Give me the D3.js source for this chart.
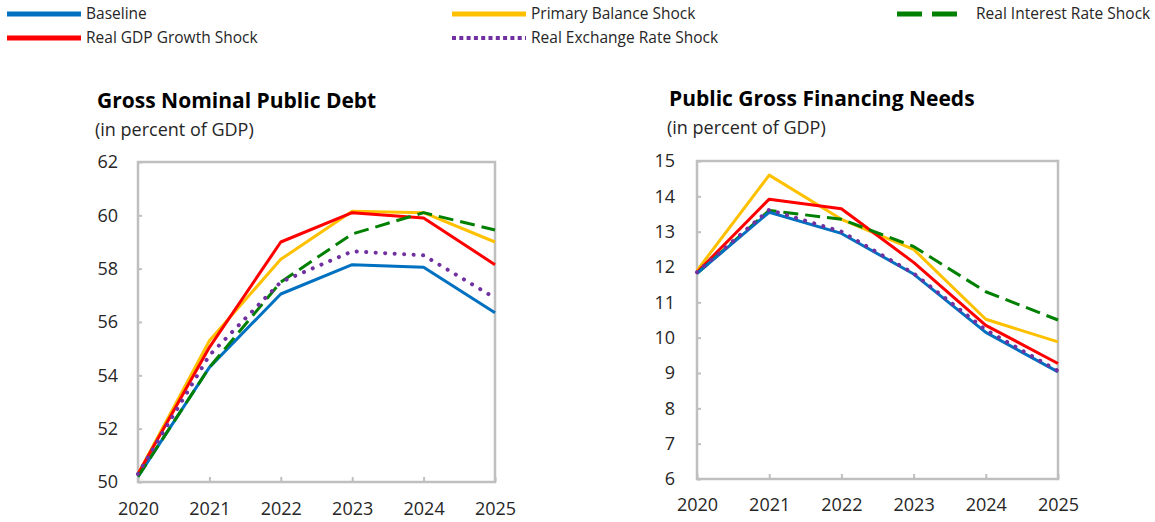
<!DOCTYPE html>
<html>
<head>
<meta charset="utf-8">
<script src="https://cdn.jsdelivr.net/npm/d3@7/dist/d3.min.js"></script>
<style>
  body { margin: 0; background: #fff; }
  svg { font-family: "Open Sans", "Noto Sans", sans-serif; }
</style>
</head>
<body>
<div id="chart"></div>
<script>
// years on the x axis
var years = [2020, 2021, 2022, 2023, 2024, 2025];

// Gross nominal public debt (% of GDP)
var debtBaseline = [50.2, 54.3, 57.05, 58.15, 58.05, 56.35];
var debtGrowth   = [50.3, 55.05, 59.0, 60.1, 59.9, 58.15];
var debtPrimary  = [50.3, 55.3, 58.35, 60.15, 60.1, 59.0];
var debtInterest = [50.2, 54.3, 57.5, 59.3, 60.1, 59.45];
var debtExchange = [50.3, 54.75, 57.5, 58.65, 58.5, 56.9];

// Public gross financing needs (% of GDP)
var gfnBaseline = [11.82, 13.55, 12.95, 11.8, 10.15, 9.03];
var gfnGrowth   = [11.85, 13.92, 13.65, 12.13, 10.35, 9.27];
var gfnPrimary  = [11.9, 14.6, 13.35, 12.5, 10.52, 9.88];
var gfnInterest = [11.82, 13.6, 13.35, 12.58, 11.3, 10.5];
var gfnExchange = [11.85, 13.62, 13.0, 11.82, 10.22, 9.06];

var debtTicks = [50, 52, 54, 56, 58, 60, 62];
var gfnTicks = [6, 7, 8, 9, 10, 11, 12, 13, 14, 15];

var styles = {
  "Baseline": {color: "#0070C0", dash: null, cap: "butt"},
  "Real GDP Growth Shock": {color: "#FF0000", dash: null, cap: "butt"},
  "Primary Balance Shock": {color: "#FFC000", dash: null, cap: "butt"},
  "Real Exchange Rate Shock": {color: "#7030A0", dash: "0.1 9.4", cap: "round"},
  "Real Interest Rate Shock": {color: "#008000", dash: "15 7", cap: "butt"}
};

var width = 1155, height = 522;
var svg = d3.select("#chart").append("svg").attr("width", width).attr("height", height);

// legend
var legendItems = [
  {name: "Baseline", x: 7, y: 14},
  {name: "Real GDP Growth Shock", x: 7, y: 38},
  {name: "Primary Balance Shock", x: 452, y: 14},
  {name: "Real Exchange Rate Shock", x: 452, y: 38},
  {name: "Real Interest Rate Shock", x: 897, y: 14}
];
var legend = svg.append("g");
legendItems.forEach(function (d) {
  var st = styles[d.name];
  var isGreen = d.name == "Real Interest Rate Shock";
  var isDot = d.name == "Real Exchange Rate Shock";
  var len = isGreen ? 60 : 74;
  legend.append("line")
    .attr("x1", d.x).attr("x2", d.x + len)
    .attr("y1", d.y).attr("y2", d.y)
    .attr("stroke", st.color)
    .attr("stroke-width", isDot ? 4 : 5)
    .attr("stroke-dasharray", isDot ? "4 3.3" : (isGreen ? "25 10" : null));
  legend.append("text")
    .attr("x", d.x + 79)
    .attr("y", d.y)
    .attr("dy", "0.35em")
    .attr("font-size", 15.5)
    .attr("fill", "#262626")
    .text(d.name);
});

function drawPanel(opt) {
  var g = svg.append("g");
  var x = d3.scalePoint().domain(years).range([opt.left, opt.right]);
  var y = d3.scaleLinear().domain([opt.ticks[0], opt.ticks[opt.ticks.length - 1]]).range([opt.bottom, opt.top]);

  g.append("text")
    .attr("x", opt.titleX).attr("y", opt.titleY)
    .attr("font-size", 21).attr("font-weight", "bold").attr("fill", "#000")
    .text(opt.title);
  g.append("text")
    .attr("x", opt.titleX - 2).attr("y", opt.titleY + 28)
    .attr("font-size", 18).attr("fill", "#262626")
    .text("(in percent of GDP)");

  // y axis (labels + inner ticks)
  var yAxis = d3.axisLeft(y).tickValues(opt.ticks).tickSize(-4).tickPadding(opt.yPad)
    .tickFormat(d3.format("d"));
  var ya = g.append("g").attr("transform", "translate(" + opt.left + ",0)").call(yAxis);
  ya.select(".domain").remove();
  ya.selectAll(".tick line").attr("stroke", "#BFBFBF").attr("stroke-width", 2);
  ya.selectAll("text").attr("font-size", 18).attr("fill", "#262626")
    .attr("font-family", "'Open Sans', 'Noto Sans', sans-serif");

  // x axis
  var xAxis = d3.axisBottom(x).tickSize(-5).tickPadding(opt.xPad);
  var xa = g.append("g").attr("transform", "translate(0," + opt.bottom + ")").call(xAxis);
  xa.select(".domain").remove();
  xa.selectAll(".tick line").attr("stroke", "#BFBFBF").attr("stroke-width", 2);
  xa.selectAll("text").attr("font-size", 18).attr("fill", "#262626")
    .attr("font-family", "'Open Sans', 'Noto Sans', sans-serif");

  // plot frame
  g.append("rect")
    .attr("x", opt.left).attr("y", opt.top)
    .attr("width", opt.right - opt.left).attr("height", opt.bottom - opt.top)
    .attr("fill", "none").attr("stroke", "#BFBFBF").attr("stroke-width", 2.5);

  var line = d3.line()
    .x(function (d, i) { return x(years[i]); })
    .y(function (d) { return y(d); });

  opt.order.forEach(function (name) {
    var st = styles[name];
    g.append("path")
      .datum(opt.series[name])
      .attr("fill", "none")
      .attr("stroke", st.color)
      .attr("stroke-width", name == "Real Exchange Rate Shock" ? 4 : 3)
      .attr("stroke-linecap", st.cap)
      .attr("stroke-linejoin", "round")
      .attr("stroke-dasharray", st.dash)
      .attr("d", line);
  });
}

drawPanel({
  title: "Gross Nominal Public Debt", titleX: 97, titleY: 108,
  left: 138, right: 495, top: 162, bottom: 482, xPad: 20, yPad: 20,
  ticks: debtTicks,
  series: {
    "Baseline": debtBaseline,
    "Real GDP Growth Shock": debtGrowth,
    "Primary Balance Shock": debtPrimary,
    "Real Interest Rate Shock": debtInterest,
    "Real Exchange Rate Shock": debtExchange
  },
  order: ["Baseline", "Primary Balance Shock", "Real GDP Growth Shock",
          "Real Interest Rate Shock", "Real Exchange Rate Shock"]
});

drawPanel({
  title: "Public Gross Financing Needs", titleX: 669, titleY: 106,
  left: 697, right: 1058, top: 161, bottom: 479, xPad: 19, yPad: 22,
  ticks: gfnTicks,
  series: {
    "Baseline": gfnBaseline,
    "Real GDP Growth Shock": gfnGrowth,
    "Primary Balance Shock": gfnPrimary,
    "Real Interest Rate Shock": gfnInterest,
    "Real Exchange Rate Shock": gfnExchange
  },
  order: ["Primary Balance Shock", "Real GDP Growth Shock", "Real Interest Rate Shock",
          "Baseline", "Real Exchange Rate Shock"]
});
</script>
</body>
</html>
